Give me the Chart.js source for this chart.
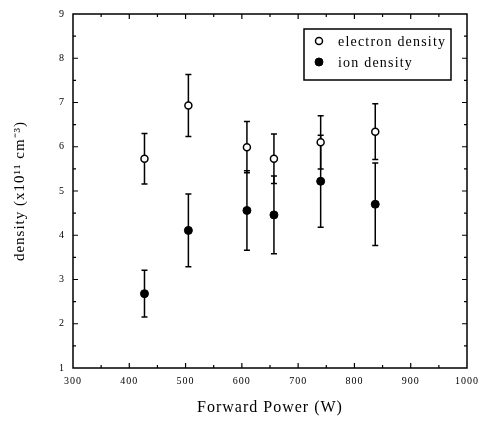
<!DOCTYPE html>
<html>
<head>
<meta charset="utf-8">
<script src="https://cdn.jsdelivr.net/npm/chart.js@4.4.1/dist/chart.umd.min.js"></script>
<style>
  html, body { margin: 0; padding: 0; background: #fff; }
  #wrap { width: 484px; height: 422px; }
</style>
</head>
<body>
<div id="wrap"><canvas id="densityChart" width="484" height="422"></canvas></div>
<script>
// data
const powerW = [427, 505, 609, 657, 740, 837];
const electronDensity = [5.73, 6.93, 5.99, 5.73, 6.10, 6.34];
const electronError = [0.57, 0.70, 0.58, 0.56, 0.60, 0.63];
const ionDensity = [2.68, 4.11, 4.56, 4.46, 5.22, 4.70];
const ionError = [0.53, 0.82, 0.90, 0.88, 1.04, 0.93];
const seriesLabels = ['electron density', 'ion density'];
const xRange = [300, 1000];
const yRange = [1, 9];
const xStep = 100;
const yStep = 1;

const serif = '"Liberation Serif", "Times New Roman", serif';

// vertical error bars, drawn under the markers
const errorBars = {
    id: 'errorBars',
    beforeDatasetsDraw(chart) {
        const ctx = chart.ctx;
        const y = chart.scales.y;
        ctx.save();
        ctx.strokeStyle = '#000';
        ctx.lineWidth = 1.5;
        chart.data.datasets.forEach((ds, di) => {
            const meta = chart.getDatasetMeta(di);
            meta.data.forEach((pt, i) => {
                const v = ds.data[i].y;
                const e = ds.errors[i];
                const top = y.getPixelForValue(v + e);
                const bot = y.getPixelForValue(v - e);
                ctx.beginPath();
                ctx.moveTo(pt.x, top);
                ctx.lineTo(pt.x, bot);
                ctx.moveTo(pt.x - 3, top);
                ctx.lineTo(pt.x + 3, top);
                ctx.moveTo(pt.x - 3, bot);
                ctx.lineTo(pt.x + 3, bot);
                ctx.stroke();
            });
        });
        ctx.restore();
    }
};

// box frame with inward ticks on all four sides, plus the boxed legend
const frame = {
    id: 'frame',
    beforeDraw(chart) {
        chart.ctx.letterSpacing = '1px';
    },
    afterDraw(chart) {
        const ctx = chart.ctx;
        const a = chart.chartArea;
        const xs = chart.scales.x;
        const ys = chart.scales.y;
        ctx.save();
        ctx.letterSpacing = '0px';
        ctx.strokeStyle = '#000';
        ctx.lineWidth = 1.5;
        ctx.strokeRect(a.left, a.top, a.right - a.left, a.bottom - a.top);

        ctx.lineWidth = 1.2;
        ctx.beginPath();
        for (let v = xRange[0] + xStep / 2; v < xRange[1]; v += xStep / 2) {
            const len = v % xStep === 0 ? 5 : 3;
            const px = xs.getPixelForValue(v);
            ctx.moveTo(px, a.bottom); ctx.lineTo(px, a.bottom - len);
            ctx.moveTo(px, a.top); ctx.lineTo(px, a.top + len);
        }
        for (let v = yRange[0] + yStep / 2; v < yRange[1]; v += yStep / 2) {
            const len = v % yStep === 0 ? 5 : 3;
            const py = ys.getPixelForValue(v);
            ctx.moveTo(a.left, py); ctx.lineTo(a.left + len, py);
            ctx.moveTo(a.right, py); ctx.lineTo(a.right - len, py);
        }
        ctx.stroke();

        // legend
        const bx = a.right - 163, by = a.top + 15, bw = 147, bh = 51;
        ctx.lineWidth = 1.5;
        ctx.strokeRect(bx, by, bw, bh);
        ctx.font = '14px ' + serif;
        ctx.letterSpacing = '1.2px';
        ctx.fillStyle = '#000';
        ctx.textBaseline = 'middle';
        chart.data.datasets.forEach((ds, i) => {
            const cy = by + 12 + i * 21;
            ctx.beginPath();
            ctx.arc(bx + 15, cy, ds.pointRadius, 0, Math.PI * 2);
            ctx.fillStyle = ds.backgroundColor;
            ctx.fill();
            ctx.lineWidth = ds.borderWidth;
            ctx.stroke();
            ctx.fillStyle = '#000';
            ctx.fillText(ds.label, bx + 34, cy + 1);
        });
        ctx.restore();
        ctx.letterSpacing = '0px';
    }
};

const ctx = document.getElementById('densityChart').getContext('2d');
new Chart(ctx, {
    type: 'scatter',
    data: {
        datasets: [
            {
                label: seriesLabels[0],
                data: powerW.map((p, i) => ({ x: p, y: electronDensity[i] })),
                errors: electronError,
                pointRadius: 3.5,
                backgroundColor: '#fff',
                borderColor: '#000',
                borderWidth: 1.5
            },
            {
                label: seriesLabels[1],
                data: powerW.map((p, i) => ({ x: p, y: ionDensity[i] })),
                errors: ionError,
                pointRadius: 4,
                backgroundColor: '#000',
                borderColor: '#000',
                borderWidth: 1
            }
        ]
    },
    options: {
        responsive: false,
        animation: false,
        layout: { padding: { top: 13, right: 14, left: 0, bottom: 0 } },
        plugins: {
            legend: { display: false },
            tooltip: { enabled: false }
        },
        scales: {
            x: {
                type: 'linear',
                min: xRange[0],
                max: xRange[1],
                ticks: {
                    stepSize: xStep, color: '#000', font: { family: serif, size: 10 }, padding: 7, maxRotation: 0,
                    callback: v => String(v)
                },
                grid: { display: false, drawTicks: false },
                border: { display: false },
                title: {
                    display: true,
                    text: 'Forward Power (W)',
                    color: '#000',
                    font: { family: serif, size: 16 },
                    padding: { top: 0, bottom: 5 }
                },
                afterFit(scale) { scale.height = 54; }
            },
            y: {
                type: 'linear',
                min: yRange[0],
                max: yRange[1],
                ticks: {
                    stepSize: yStep, color: '#000', font: { family: serif, size: 10 }, padding: 8,
                    callback: v => String(v)
                },
                grid: { display: false, drawTicks: false },
                border: { display: false },
                title: {
                    display: true,
                    text: 'density (x10\u00B9\u00B9 cm\u207B\u00B3)',
                    color: '#000',
                    font: { family: serif, size: 15 },
                    padding: { top: 11, bottom: 0 }
                },
                afterFit(scale) { scale.width = 73; }
            }
        }
    },
    plugins: [errorBars, frame]
});
</script>
</body>
</html>
